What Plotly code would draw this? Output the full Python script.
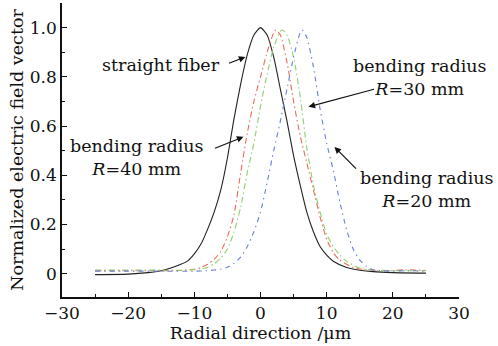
import plotly.graph_objects as go

# Data
x_straight = [-25, -20, -17, -15, -13, -11, -10, -9, -8, -7, -6, -5, -4, -3, -2, -1, 0,
              1, 2, 3, 4, 5, 6, 7, 8, 9, 10, 11, 13, 15, 17, 20, 25]
y_straight = [-0.004, -0.002, 0.004, 0.012, 0.028, 0.052, 0.08, 0.12, 0.18, 0.25, 0.34, 0.47,
              0.63, 0.77, 0.89, 0.97, 1.0, 0.97, 0.88, 0.75, 0.62, 0.48, 0.36, 0.25, 0.17,
              0.11, 0.075, 0.05, 0.025, 0.014, 0.008, 0.004, 0.002]

x_r40 = [-25, -20, -15, -12, -10, -9, -8, -7, -6, -5, -4, -3, -2, -1, 0, 1, 2, 2.3, 3, 4,
         5, 6, 7, 8, 9, 10, 11, 12, 14, 16, 18, 20, 22, 25]
y_r40 = [0.012, 0.012, 0.012, 0.013, 0.018, 0.025, 0.038, 0.058, 0.09, 0.15, 0.24, 0.41,
         0.57, 0.7, 0.8, 0.9, 0.98, 0.99, 0.97, 0.86, 0.7, 0.56, 0.45, 0.34, 0.23, 0.14,
         0.085, 0.055, 0.025, 0.016, 0.013, 0.012, 0.016, 0.013]

x_r30 = [-25, -20, -15, -12, -10, -9, -8, -7, -6, -5, -4, -3, -2, -1, 0, 1, 2, 3, 3.3, 4,
         5, 6, 7, 8, 9, 10, 11, 12, 13, 15, 17, 20, 22, 25]
y_r30 = [0.015, 0.015, 0.014, 0.014, 0.016, 0.02, 0.025, 0.04, 0.063, 0.1, 0.17, 0.27,
         0.41, 0.53, 0.68, 0.81, 0.92, 0.985, 0.99, 0.97, 0.88, 0.72, 0.51, 0.36, 0.25,
         0.16, 0.11, 0.075, 0.05, 0.022, 0.015, 0.012, 0.012, 0.012]

x_r20 = [-25, -20, -15, -10, -8, -6, -5, -4, -3, -2, -1, 0, 1, 2, 3, 4, 5, 6, 6.3, 7, 8,
         9, 10, 11, 12, 13, 14, 15, 16, 17, 18, 20, 22, 25]
y_r20 = [0.01, 0.01, 0.01, 0.01, 0.012, 0.018, 0.026, 0.042, 0.067, 0.11, 0.17, 0.25,
         0.37, 0.5, 0.62, 0.75, 0.88, 0.98, 0.99, 0.96, 0.84, 0.67, 0.53, 0.42, 0.29, 0.18,
         0.1, 0.055, 0.03, 0.015, 0.012, 0.01, 0.012, 0.01]

x_ticks = [-30, -20, -10, 0, 10, 20, 30]
x_tick_text = ["\u221230", "\u221220", "\u221210", "0", "10", "20", "30"]
y_ticks = [0, 0.2, 0.4, 0.6, 0.8, 1.0]
y_tick_text = ["0", "0.2", "0.4", "0.6", "0.8", "1.0"]

FONT = "DejaVu Serif"

fig = go.Figure()
series = [
    (x_straight, y_straight, "#222222", "solid"),
    (x_r40, y_r40, "#f06a58", "6px,3px,1.5px,3px"),
    (x_r30, y_r30, "#8fcf6e", "6px,3px,1.5px,3px"),
    (x_r20, y_r20, "#6680d6", "5px,4px,1.5px,4px"),
]
for xs, ys, col, dash in series:
    fig.add_trace(go.Scatter(x=xs, y=ys, mode="lines",
                             line=dict(color=col, width=1.1, dash=dash, shape="spline", smoothing=0.6),
                             showlegend=False, hoverinfo="skip"))

# text labels
labels = [
    ("straight fiber", -15.1, 0.849),
    ("bending radius<br><i>R</i>=40 mm", -18.74, 0.473),
    ("bending radius<br><i>R</i>=30 mm", 24.18, 0.798),
    ("bending radius<br><i>R</i>=20 mm", 25.09, 0.340),
]
for t, x, y in labels:
    fig.add_annotation(x=x, y=y, text=t, showarrow=False, xref="x", yref="y",
                       font=dict(family=FONT, size=17.5, color="#111"), align="center")

# arrows: (tail_x, tail_y, head_x, head_y)
arrows = [
    (-4.99, 0.853, -2.27, 0.881),
    (-7.10, 0.507, -2.57, 0.556),
    (17.38, 0.751, 7.25, 0.678),
    (14.66, 0.421, 11.18, 0.515),
]
for tx, ty, hx, hy in arrows:
    fig.add_annotation(x=hx, y=hy, ax=tx, ay=ty, xref="x", yref="y", axref="x", ayref="y",
                       text="", showarrow=True, arrowhead=2, arrowsize=1.1, arrowwidth=1.2,
                       arrowcolor="#111", standoff=0, startstandoff=0)

fig.update_layout(
    width=498, height=346,
    margin=dict(l=62, r=39, t=3, b=49),
    paper_bgcolor="white", plot_bgcolor="white",
    font=dict(family=FONT, size=17, color="#111"),
    xaxis=dict(range=[-30, 30], tickvals=x_ticks, ticktext=x_tick_text,
               ticks="inside", ticklen=5, tickwidth=1, tickcolor="#111",
               showline=True, linecolor="#111", linewidth=1.5, showgrid=False, zeroline=False,
               minor=dict(dtick=5, ticks="inside", ticklen=3, tickcolor="#111", showgrid=False),
               title=dict(text="Radial direction /\u03bcm", font=dict(family=FONT, size=17.5), standoff=3),
               tickfont=dict(family=FONT, size=17)),
    yaxis=dict(range=[-0.095, 1.1], tickvals=y_ticks, ticktext=y_tick_text,
               ticks="inside", ticklen=5, tickwidth=1, tickcolor="#111",
               showline=True, linecolor="#111", linewidth=1.5, showgrid=False, zeroline=False,
               minor=dict(dtick=0.1, ticks="inside", ticklen=3, tickcolor="#111", showgrid=False),
               title=dict(text="Normalized electric field vector", font=dict(family=FONT, size=17.5), standoff=2),
               tickfont=dict(family=FONT, size=17)),
)

fig.write_html("out.html")
